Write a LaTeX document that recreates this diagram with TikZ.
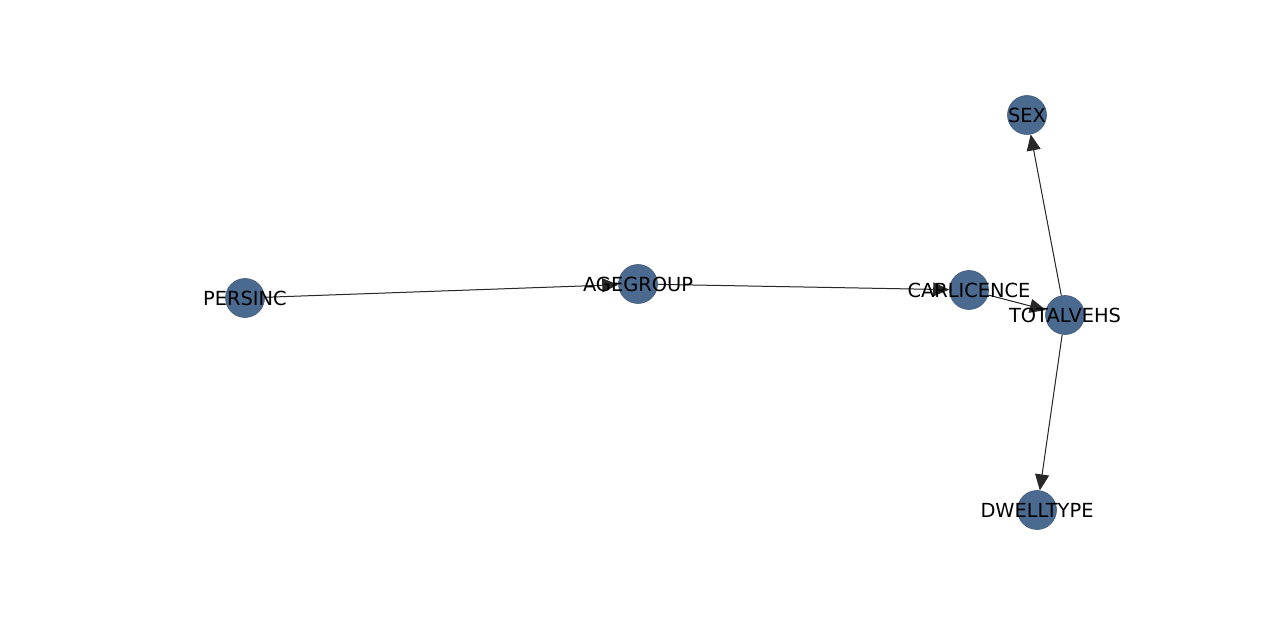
\documentclass[tikz,border=0pt]{standalone}
\usepackage{fontspec}
\setmainfont{DejaVu Sans}
\usetikzlibrary{arrows.meta}
\definecolor{nodeblue}{RGB}{74,106,143}
\definecolor{edgegray}{RGB}{40,40,40}
\tikzset{
  vertex/.style={circle, fill=nodeblue, draw=nodeblue!85!black, line width=0.6pt, minimum size=39pt, inner sep=0pt},
  vlabel/.style={inner sep=0pt, font=\fontsize{19.4}{23}\selectfont, text=black},
  edge/.style={draw=edgegray, line width=1pt, -{Triangle[length=16pt,width=14pt]}, fill=edgegray}
}
\begin{document}
\begin{tikzpicture}[x=1pt,y=-1pt]
\useasboundingbox (0,0) rectangle (1280,620);
\node[vertex] (persinc) at (245,298) {};
\node[vertex] (agegroup) at (638,284) {};
\node[vertex] (carlicence) at (969,290) {};
\node[vertex] (totalvehs) at (1065,315) {};
\node[vertex] (sex) at (1027,115) {};
\node[vertex] (dwelltype) at (1037,510) {};
\draw[edge] (persinc) -- (agegroup);
\draw[edge] (agegroup) -- (carlicence);
\draw[edge] (carlicence) -- (totalvehs);
\draw[edge] (totalvehs) -- (sex);
\draw[edge] (totalvehs) -- (dwelltype);
\node[vlabel] (lpersinc) at (245,298) {PERSINC};
\node[vlabel] (lagegroup) at (638,284) {AGEGROUP};
\node[vlabel] (lcarlicence) at (969,290) {CARLICENCE};
\node[vlabel] (ltotalvehs) at (1065,315) {TOTALVEHS};
\node[vlabel] (lsex) at (1027,115) {SEX};
\node[vlabel] (ldwelltype) at (1037,510) {DWELLTYPE};
\end{tikzpicture}
\end{document}
